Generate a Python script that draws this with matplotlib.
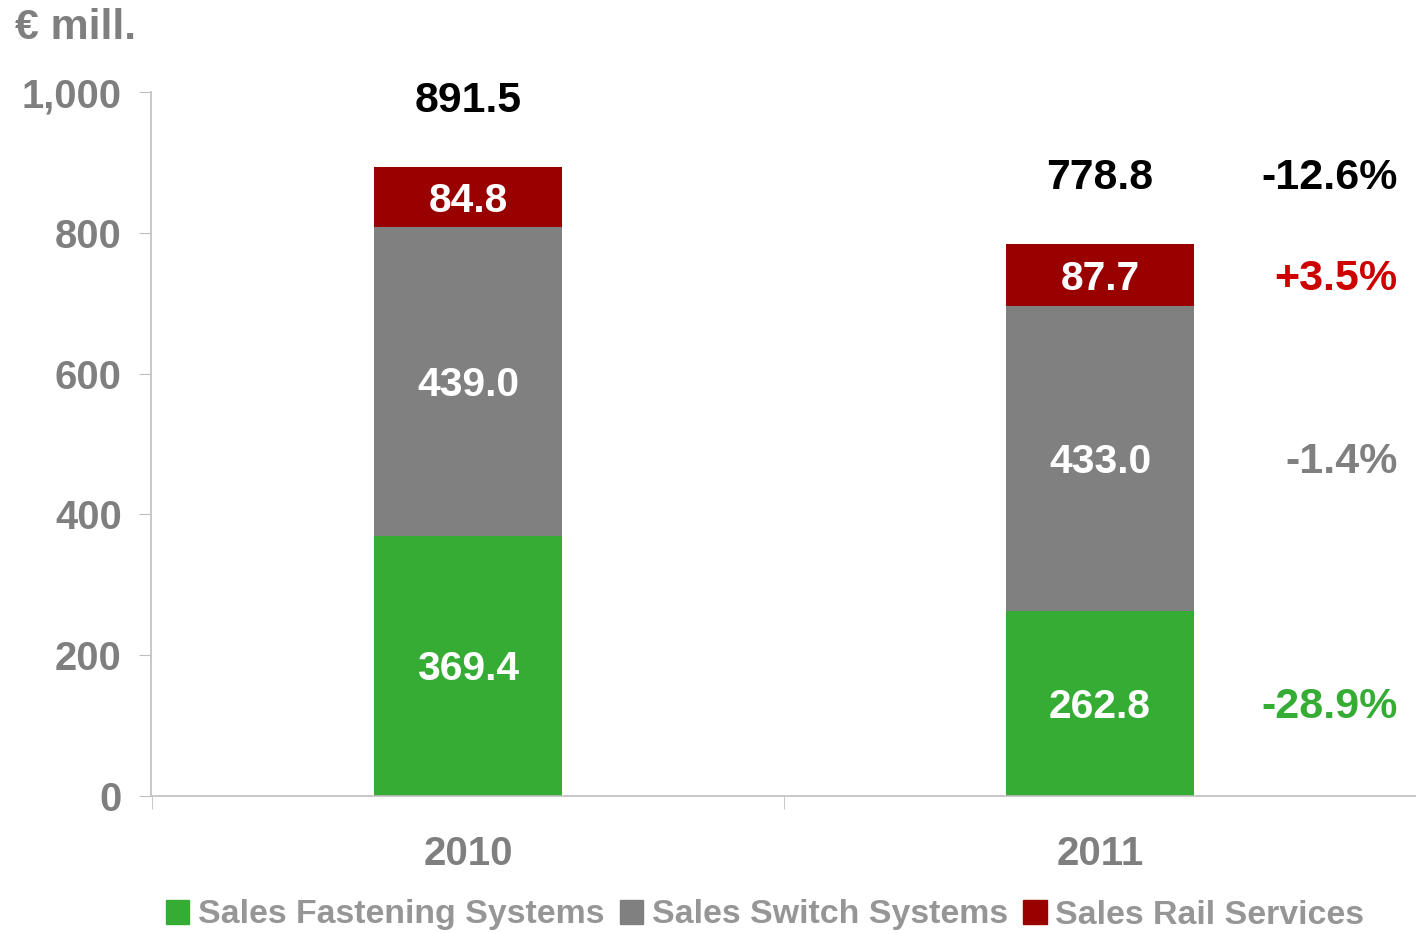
import matplotlib
matplotlib.use('Agg')
import matplotlib.pyplot as plt
from matplotlib.patches import Patch

# -------------------------------------------------------------------------------
# Datos
years = ['2010', '2011']
fastening = [369.4, 262.8]
switch = [439.0, 433.0]
rail = [84.8, 87.7]
totals = [891.5, 778.8]
series_names = ['Sales Fastening Systems', 'Sales Switch Systems', 'Sales Rail Services']
changes = ['-12.6%', '+3.5%', '-1.4%', '-28.9%']  # total, rail, switch, fastening
# -------------------------------------------------------------------------------

GREEN = '#35AD35'
GREY = '#808080'
RED = '#990000'
AXIS_TXT = '#7F7F7F'
LEG_TXT = '#969696'

plt.rcParams['font.family'] = ['Liberation Sans', 'DejaVu Sans']
plt.rcParams['font.weight'] = 'bold'

fig = plt.figure(figsize=(14.16, 9.34), dpi=100)
ax = fig.add_axes([151 / 1416, 1 - 796 / 934, 1 - 151 / 1416, (796 - 92) / 934])

x = range(len(years))
w = 0.296
bottoms2 = [a for a in fastening]
bottoms3 = [a + b for a, b in zip(fastening, switch)]
ax.bar(x, fastening, w, color=GREEN, zorder=2)
ax.bar(x, switch, w, bottom=bottoms2, color=GREY, zorder=2)
ax.bar(x, rail, w, bottom=bottoms3, color=RED, zorder=2)

fs_in = 29.3
fs_tot = 30.8
fs_pct = 31
dy = -5  # pequeno ajuste vertical de las etiquetas
for i in x:
  ax.text(i, fastening[i] / 2 + dy, f'{fastening[i]:.1f}', ha='center', va='center',
          color='white', fontsize=fs_in, fontweight='bold')
  ax.text(i, bottoms2[i] + switch[i] / 2 + dy, f'{switch[i]:.1f}', ha='center', va='center',
          color='white', fontsize=fs_in, fontweight='bold')
  ax.text(i, bottoms3[i] + rail[i] / 2 + dy, f'{rail[i]:.1f}', ha='center', va='center',
          color='white', fontsize=fs_in, fontweight='bold')
  top = bottoms3[i] + rail[i]
  ax.text(i, top + 94, f'{totals[i]:.1f}', ha='center', va='center',
          color='black', fontsize=fs_tot, fontweight='bold')

# Variaciones a la derecha
last = len(years) - 1
top_last = bottoms3[last] + rail[last]
xr = 1.471
ax.text(xr, top_last + 94, changes[0], ha='right', va='center', color='black',
        fontsize=fs_pct, fontweight='bold')
ax.text(xr, bottoms3[last] + rail[last] / 2 + dy, changes[1], ha='right', va='center',
        color='#CC0000', fontsize=fs_pct, fontweight='bold')
ax.text(xr, bottoms2[last] + switch[last] / 2 + dy, changes[2], ha='right', va='center',
        color=GREY, fontsize=fs_pct, fontweight='bold')
ax.text(xr, fastening[last] / 2 + dy, changes[3], ha='right', va='center',
        color=GREEN, fontsize=fs_pct, fontweight='bold')

ax.set_xlim(-0.5016, 1.487)
ax.set_ylim(0, 1000)
ax.set_yticks([0, 200, 400, 600, 800, 1000])
ax.set_yticklabels(['0', '200', '400', '600', '800', '1,000'])
ax.set_xticks(list(x))
ax.set_xticklabels(years)
ax.set_xticks([-0.5, 0.5, 1.5], minor=True)
ax.tick_params(axis='x', which='major', length=0, pad=28, labelsize=29,
               labelcolor=AXIS_TXT)
ax.tick_params(axis='x', which='minor', length=9, color='#BFBFBF', direction='out')
ax.tick_params(axis='y', length=9, color='#BFBFBF', pad=12, labelsize=28.8,
               labelcolor=AXIS_TXT)
for lab in ax.get_xticklabels() + ax.get_yticklabels():
  lab.set_fontweight('bold')

for side in ['top', 'right']:
  ax.spines[side].set_visible(False)
for side in ['left', 'bottom']:
  ax.spines[side].set_color('#BFBFBF')
  ax.spines[side].set_linewidth(1.2)

fig.text(15 / 1416, 1 - 28 / 934, '€ mill.', ha='left', va='center', color=AXIS_TXT,
         fontsize=30.8, fontweight='bold')

handles = [Patch(color=c) for c in [GREEN, GREY, RED]]
leg = fig.legend(handles, series_names, loc='center', bbox_to_anchor=(765 / 1416, 1 - 915 / 934),
                 ncol=3, frameon=False, fontsize=24.4, handlelength=0.7, handleheight=0.7,
                 handletextpad=0.25, columnspacing=0.45, borderpad=0)
for t in leg.get_texts():
  t.set_color(LEG_TXT)
  t.set_fontweight('bold')

plt.savefig('out.png', dpi=100)
